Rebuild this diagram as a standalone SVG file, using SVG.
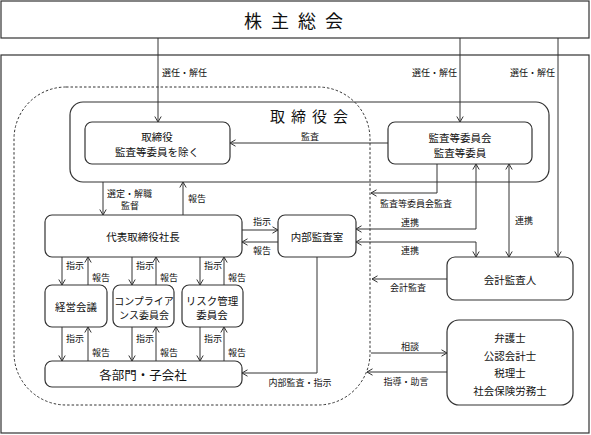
<svg xmlns="http://www.w3.org/2000/svg" width="591" height="435" viewBox="0 0 591 435">
<style>
.bx{fill:#fff;stroke:#333;stroke-width:1.2}
.fr{fill:none;stroke:#333;stroke-width:1.2}
.ln{fill:none;stroke:#333;stroke-width:1}
text{font-family:"Noto Sans CJK JP","Noto Sans",sans-serif;fill:#111;dominant-baseline:central}
.lb{font-size:9px}
.t{font-size:10.5px;text-anchor:middle}
.c{text-anchor:middle}
.e{text-anchor:end}
</style>
<defs>
<marker id="a" viewBox="0 0 8 8" refX="7.5" refY="4" markerWidth="8" markerHeight="8" orient="auto-start-reverse" markerUnits="userSpaceOnUse">
<path d="M2,0.8 L7.5,4 L2,7.2" fill="none" stroke="#333" stroke-width="1"/>
</marker>
</defs>
<rect x="0" y="0" width="591" height="435" fill="#fff"/>
<g id="frame">
<rect class="fr" x="1" y="55" width="588" height="378"/>
<rect class="fr" x="14" y="87" width="356" height="318" rx="52" stroke-dasharray="2.5,2" style="stroke-width:1"/>
</g>
<g id="shareholders">
<rect class="bx" x="1" y="1" width="588" height="37"/>
<text x="298" y="20" class="c" style="font-size:18px;letter-spacing:9px">株主総会</text>
</g>
<g id="board">
<rect class="fr" x="70" y="102" width="479" height="80" rx="13"/>
<text x="312" y="115" class="c" style="font-size:15px;letter-spacing:6px">取締役会</text>
</g>
<g id="directors">
<rect class="bx" x="85" y="122" width="145" height="42" rx="7"/>
<text class="t" x="157" y="136">取締役</text>
<text class="t" x="157" y="151">監査等委員を除く</text>
</g>
<g id="auditcommittee">
<rect class="bx" x="388" y="122" width="144" height="42" rx="7"/>
<text class="t" x="460" y="137">監査等委員会</text>
<text class="t" x="460" y="152">監査等委員</text>
</g>
<g id="president">
<rect class="bx" x="45" y="215" width="197" height="42" rx="7"/>
<text class="t" x="143" y="236">代表取締役社長</text>
</g>
<g id="internalaudit">
<rect class="bx" x="278" y="215" width="78" height="42" rx="7"/>
<text class="t" x="317" y="236">内部監査室</text>
</g>
<g id="management">
<rect class="bx" x="45" y="285" width="62" height="42" rx="7"/>
<text class="t" x="76" y="306">経営会議</text>
</g>
<g id="compliance">
<rect class="bx" x="113" y="285" width="61" height="42" rx="7"/>
<text class="t" x="144" y="300" style="font-size:10px">コンプライア</text>
<text class="t" x="144" y="314" style="font-size:10px">ンス委員会</text>
</g>
<g id="risk">
<rect class="bx" x="182" y="285" width="61" height="42" rx="7"/>
<text class="t" x="212" y="300">リスク管理</text>
<text class="t" x="212" y="314">委員会</text>
</g>
<g id="departments">
<rect class="bx" x="45" y="361" width="197" height="26" rx="7"/>
<text x="143" y="374" class="c" style="font-size:12.5px">各部門・子会社</text>
</g>
<g id="accountingauditor">
<rect class="bx" x="447" y="257" width="126" height="43" rx="8"/>
<text class="t" x="510" y="279">会計監査人</text>
</g>
<g id="advisors">
<rect class="bx" x="447" y="320" width="126" height="85" rx="12"/>
<text class="t" x="510" y="337.5">弁護士</text>
<text class="t" x="510" y="355">公認会計士</text>
<text class="t" x="510" y="372.5">税理士</text>
<text class="t" x="510" y="390">社会保険労務士</text>
</g>
<g id="connectors">
<path class="ln" d="M158,38V122" marker-end="url(#a)"/>
<path class="ln" d="M460,38V122" marker-end="url(#a)"/>
<path class="ln" d="M558,38V257" marker-end="url(#a)"/>
<path class="ln" d="M388,143H230" marker-end="url(#a)"/>
<path class="ln" d="M437,164V193H371" marker-end="url(#a)"/>
<path class="ln" d="M476,164V229H356" marker-start="url(#a)" marker-end="url(#a)"/>
<path class="ln" d="M509,164V257" marker-start="url(#a)" marker-end="url(#a)"/>
<path class="ln" d="M356,242H476V257" marker-start="url(#a)" marker-end="url(#a)"/>
<path class="ln" d="M447,279H372" marker-end="url(#a)"/>
<path class="ln" d="M371,353H447" marker-end="url(#a)"/>
<path class="ln" d="M447,372H367" marker-end="url(#a)"/>
<path class="ln" d="M103,182V215" marker-end="url(#a)"/>
<path class="ln" d="M183,215V182" marker-end="url(#a)"/>
<path class="ln" d="M242,230H278" marker-end="url(#a)"/>
<path class="ln" d="M278,242H242" marker-end="url(#a)"/>
<path class="ln" d="M317,257V373H242" marker-end="url(#a)"/>
<path class="ln" d="M62,257V285" marker-end="url(#a)"/>
<path class="ln" d="M88,285V257" marker-end="url(#a)"/>
<path class="ln" d="M132,257V285" marker-end="url(#a)"/>
<path class="ln" d="M156,285V257" marker-end="url(#a)"/>
<path class="ln" d="M200,257V285" marker-end="url(#a)"/>
<path class="ln" d="M224,285V257" marker-end="url(#a)"/>
<path class="ln" d="M62,327V361" marker-end="url(#a)"/>
<path class="ln" d="M88,361V327" marker-end="url(#a)"/>
<path class="ln" d="M132,327V361" marker-end="url(#a)"/>
<path class="ln" d="M156,361V327" marker-end="url(#a)"/>
<path class="ln" d="M200,327V361" marker-end="url(#a)"/>
<path class="ln" d="M224,361V327" marker-end="url(#a)"/>
<text class="lb" x="162" y="72">選任・解任</text>
<text class="lb e" x="457" y="72">選任・解任</text>
<text class="lb e" x="555" y="72">選任・解任</text>
<text class="lb c" x="310" y="136">監査</text>
<text class="lb" x="380" y="203">監査等委員会監査</text>
<text class="lb c" x="410" y="222">連携</text>
<text class="lb c" x="524" y="220">連携</text>
<text class="lb c" x="410" y="250">連携</text>
<text class="lb c" x="408" y="287">会計監査</text>
<text class="lb c" x="410" y="346">相談</text>
<text class="lb c" x="406" y="381">指導・助言</text>
<text class="lb" x="107" y="193">選定・解職</text>
<text class="lb c" x="130" y="205">監督</text>
<text class="lb" x="188" y="198">報告</text>
<text class="lb c" x="262" y="221">指示</text>
<text class="lb c" x="262" y="250">報告</text>
<text class="lb c" x="300" y="382">内部監査・指示</text>
<text class="lb" x="66" y="265">指示</text>
<text class="lb" x="92" y="277">報告</text>
<text class="lb" x="136" y="265">指示</text>
<text class="lb" x="160" y="277">報告</text>
<text class="lb" x="204" y="265">指示</text>
<text class="lb" x="228" y="277">報告</text>
<text class="lb" x="66" y="338">指示</text>
<text class="lb" x="92" y="352">報告</text>
<text class="lb" x="136" y="338">指示</text>
<text class="lb" x="160" y="352">報告</text>
<text class="lb" x="204" y="338">指示</text>
<text class="lb" x="228" y="352">報告</text>
</g>
</svg>
